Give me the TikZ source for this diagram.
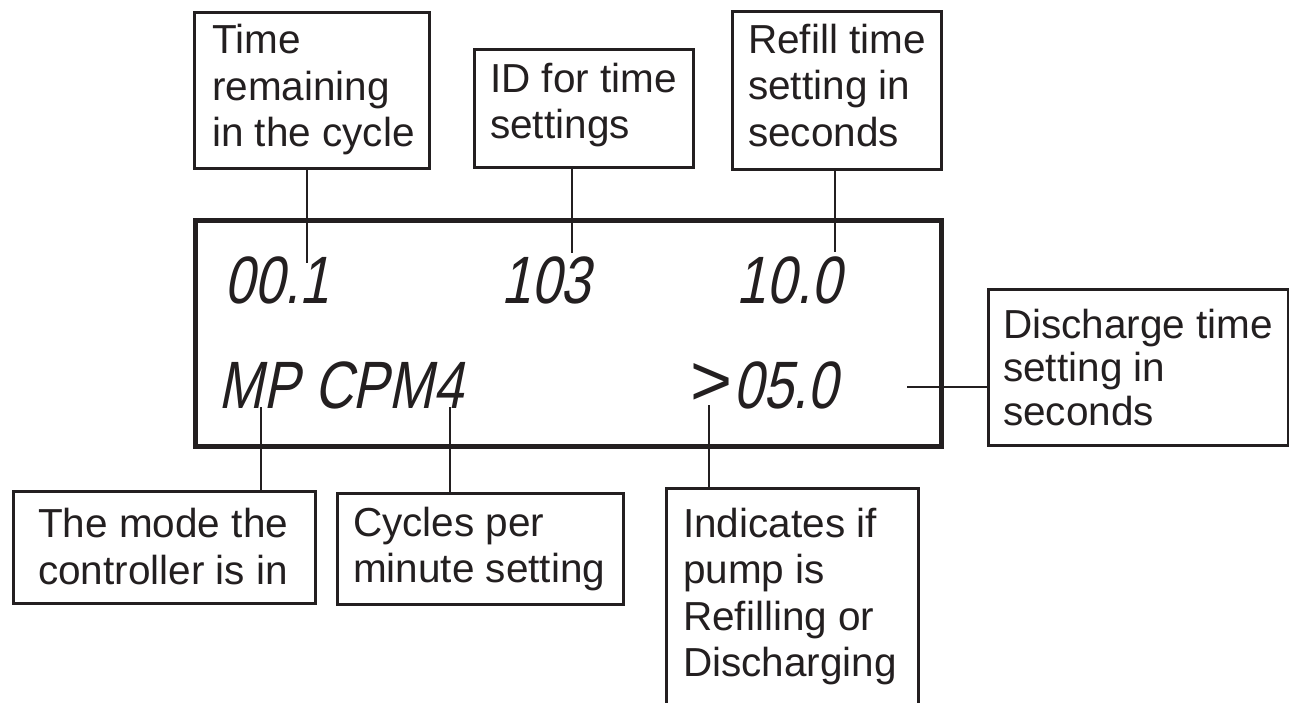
\documentclass[tikz,border=0pt]{standalone}
\usepackage{fontspec}
\setmainfont{Liberation Sans}
\newfontfamily\lcdfont[FakeStretch=0.8,FakeSlant=0.2]{Liberation Sans}
\definecolor{ink}{HTML}{231F20}
\tikzset{
  box/.style={draw=ink, line width=2.8pt, inner sep=0pt, anchor=north west},
  lbl/.style={text=ink, font=\fontsize{40.5}{46.5}\selectfont, align=left, anchor=base west, inner sep=0pt},
  lcd/.style={text=ink, font=\lcdfont\fontsize{67}{67}\selectfont, anchor=base, inner sep=0pt},
  conn/.style={draw=ink, line width=2.4pt},
  panel/.style={draw=ink, line width=5pt, inner sep=0pt, anchor=north west}
}
\begin{document}
\begin{tikzpicture}[x=1pt,y=-1pt]
\path[use as bounding box, clip] (0,0) rectangle (1289,702);
\fill[white] (0,0) rectangle (1289,702);

% display panel
\node[panel, minimum width=746pt, minimum height=226pt] (lcdpanel) at (193,218) {};

% LCD readings
\node[lcd] (r1a) at (277,303) {00.1};
\node[lcd] (r1b) at (546,303) {103};
\node[lcd] (r1c) at (789,303) {10.0};
\node[lcd] (r2a) at (341,408) {MP CPM4};
\node[lcd, anchor=base west] (r2b) at (690,408) {\raisebox{3pt}{\rmfamily\fontsize{72}{72}\selectfont >}\kern1pt 05.0};

% callout boxes
\node[box, minimum width=235pt, minimum height=156pt] (time) at (193,11) {};
\node[box, minimum width=219pt, minimum height=118pt] (id) at (473,48) {};
\node[box, minimum width=209pt, minimum height=158pt] (refill) at (731,10) {};
\node[box, minimum width=300pt, minimum height=156pt] (disch) at (987,288) {};
\node[box, minimum width=302pt, minimum height=112pt] (mode) at (12,490) {};
\node[box, minimum width=286pt, minimum height=111pt] (cycles) at (336,492) {};
\node[box, minimum width=252pt, minimum height=260pt] (ind) at (665,487) {};

% callout texts (anchored at the baseline of their last line)
\node[lbl] (timet) at (212,146.5) {Time\\remaining\\in the cycle};
\node[lbl] (idt) at (490,138.5) {ID for time\\settings};
\node[lbl] (refillt) at (748,146) {Refill time\\setting in\\seconds};
\node[lbl, font=\fontsize{40.5}{43.5}\selectfont] (discht) at (1003,425) {Discharge time\\setting in\\seconds};
\node[lbl] (modet) at (38,584) {The mode the\\controller is in};
\node[lbl] (cyclest) at (353,582.5) {Cycles per\\minute setting};
\node[lbl] (indt) at (683,676.5) {Indicates if\\pump is\\Refilling or\\Discharging};

% connectors
\coordinate (c1) at (307,263);
\coordinate (c2) at (572,253);
\coordinate (c3) at (835,252);
\coordinate (c4) at (907,387);
\coordinate (c5) at (261,407);
\coordinate (c6) at (450,407);
\coordinate (c7) at (709,405);
\draw[conn] (time.south -| c1) -- (c1);
\draw[conn] (id.south -| c2) -- (c2);
\draw[conn] (refill.south -| c3) -- (c3);
\draw[conn] (c4) -- (c4 -| disch.west);
\draw[conn] (c5) -- (c5 |- mode.north);
\draw[conn] (c6) -- (c6 |- cycles.north);
\draw[conn] (c7) -- (c7 |- ind.north);
\end{tikzpicture}
\end{document}
